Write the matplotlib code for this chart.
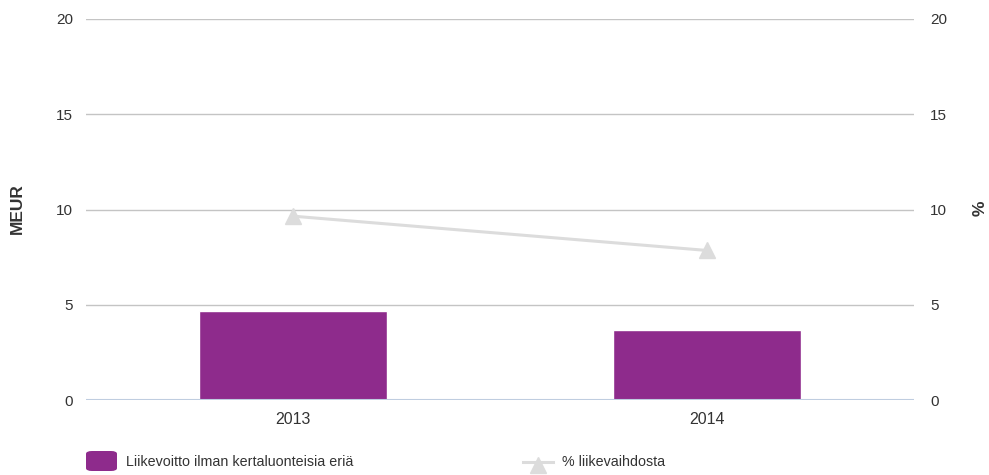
import matplotlib
matplotlib.use('Agg')
import matplotlib.pyplot as plt
from matplotlib.patches import FancyBboxPatch
from matplotlib.lines import Line2D

# ── Data ─────────────────────────────────────────────────────────────────────
YEARS = ["2013", "2014"]
OPERATING_PROFIT = [4.67, 3.67]      # MEUR
PCT_OF_REVENUE = [9.65, 7.85]        # %
Y_TICKS = [0, 5, 10, 15, 20]
# ─────────────────────────────────────────────────────────────────────────────

plt.rcParams['font.family'] = ['Liberation Sans', 'DejaVu Sans']

BAR_COLOR = "#8e2b8c"
LINE_COLOR = "#dcdcdc"
TEXT_COLOR = "#333333"
W, H = 989, 475

fig = plt.figure(figsize=(W / 100, H / 100), dpi=100)
ax = fig.add_axes([86 / W, 1 - 400 / H, 828 / W, 381 / H])
ax2 = ax.twinx()

x = list(range(len(YEARS)))
ax.bar(x, OPERATING_PROFIT, width=0.455, color=BAR_COLOR,
       edgecolor="white", linewidth=1, zorder=3)
ax2.plot(x, PCT_OF_REVENUE, color=LINE_COLOR, linewidth=2.2,
         marker="^", markersize=12, zorder=4)

for a, pad in ((ax, 9.5), (ax2, 11.5)):
    a.set_xlim(-0.5, len(YEARS) - 0.5)
    a.set_ylim(0, 20)
    a.set_yticks(Y_TICKS)
    for s in a.spines.values():
        s.set_visible(False)
    a.tick_params(axis="y", length=0, labelsize=11, labelcolor=TEXT_COLOR, pad=pad)

ax.set_xticks(x)
ax.set_xticklabels(YEARS)
ax.tick_params(axis="x", length=0, labelsize=11.5, labelcolor=TEXT_COLOR, pad=9)

for t in Y_TICKS[1:]:
    ax.axhline(t, color="#c4c4c4", linewidth=1, zorder=1)
ax.axhline(0, color="#bfcde0", linewidth=1.5, zorder=4)

fig.text(17 / W, 1 - 209 / H, "MEUR", rotation=90, ha="center", va="center",
         fontsize=12.5, fontweight="bold", color=TEXT_COLOR)
fig.text(980 / W, 1 - 208 / H, "%", rotation=90, ha="center", va="center",
         fontsize=12.5, fontweight="bold", color=TEXT_COLOR)

# ── Legend ───────────────────────────────────────────────────────────────────
leg_y = 1 - 462 / H
box = FancyBboxPatch((86 / W, 1 - 471 / H), 31 / W, 20 / H,
                     boxstyle="round,pad=0,rounding_size=0.006",
                     transform=fig.transFigure, facecolor=BAR_COLOR,
                     edgecolor="none")
fig.patches.append(box)
fig.text(126 / W, leg_y, "Liikevoitto ilman kertaluonteisia eriä",
         ha="left", va="center", fontsize=10.3, color=TEXT_COLOR)

fig.lines.append(Line2D([523 / W, 553 / W], [leg_y, leg_y],
                        transform=fig.transFigure, color=LINE_COLOR, linewidth=2.2))
fig.lines.append(Line2D([538 / W], [1 - 465 / H], transform=fig.transFigure,
                        color=LINE_COLOR, marker="^", markersize=11, linestyle="none"))
fig.text(562 / W, leg_y, "% liikevaihdosta",
         ha="left", va="center", fontsize=10.3, color=TEXT_COLOR)

plt.savefig("out.png", dpi=100)
plt.close("all")
